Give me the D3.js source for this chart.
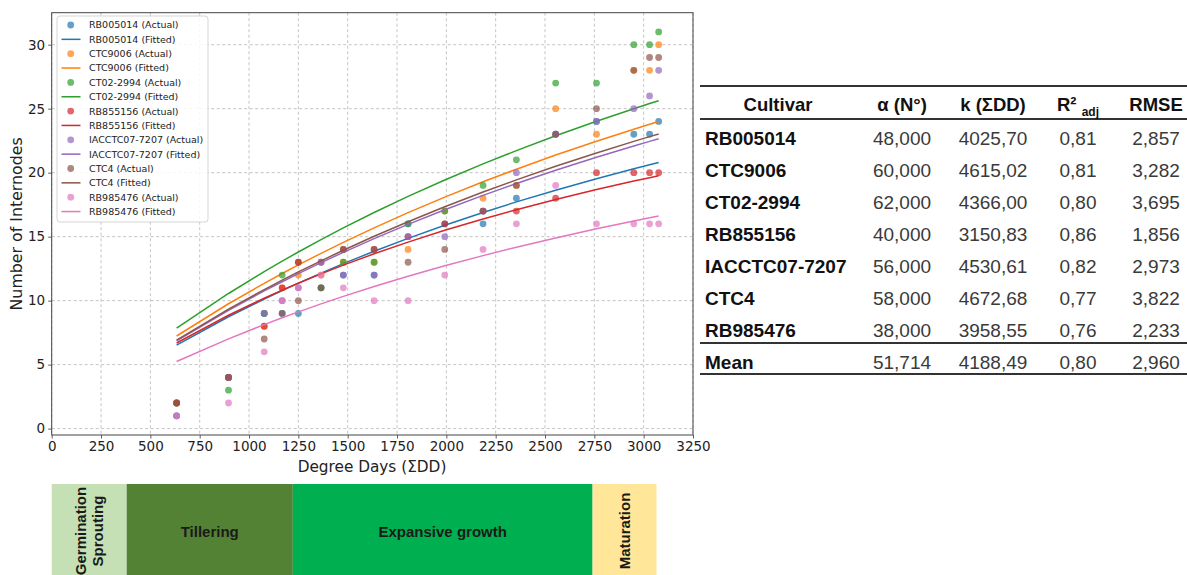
<!DOCTYPE html>
<html>
<head>
<meta charset="utf-8">
<script src="https://cdn.jsdelivr.net/npm/d3@7"></script>
<style>
  html, body { margin: 0; padding: 0; background: #fff; }
  svg { display: block; }
</style>
</head>
<body>
<svg id="chart" width="1187" height="575"></svg>
<script>
// Degree days at each sampling date
const degreeDays = [633, 896, 1077, 1168, 1250, 1365, 1478, 1634, 1806, 1992, 2186, 2355, 2554, 2761, 2950, 3030, 3076];

// Cultivars and their observed internode counts
const cultivars = ["RB005014", "CTC9006", "CT02-2994", "RB855156", "IACCTC07-7207", "CTC4", "RB985476"];
const obsRB005014    = [1, 4, 9, 9, 9, 11, 12, 12, 16, 16, 16, 18, 23, 24, 23, 23, 24];
const obsCTC9006     = [2, 4, 8, 11, 12, 12, 13, 13, 14, 17, 18, 19, 25, 23, 28, 28, 30];
const obsCT022994    = [2, 3, 9, 12, 13, 11, 13, 13, 16, 17, 19, 21, 27, 27, 30, 30, 31];
const obsRB855156    = [2, 4, 8, 11, 13, 13, 14, 14, 15, 16, 17, 17, 18, 20, 20, 20, 20];
const obsIACCTC077207 = [1, 4, 9, 10, 11, 13, 12, 12, 15, 15, 17, 20, 23, 24, 25, 26, 28];
const obsCTC4        = [2, 4, 7, 9, 10, 11, 14, 14, 13, 14, 17, 19, 23, 25, 28, 29, 29];
const obsRB985476    = [1, 2, 6, 10, 11, 12, 11, 10, 10, 12, 14, 16, 19, 16, 16, 16, 16];
const observed = [obsRB005014, obsCTC9006, obsCT022994, obsRB855156, obsIACCTC077207, obsCTC4, obsRB985476];

// Model parameters: N = alpha * DD / (k + DD)
const alphaVals = [48, 60, 62, 40, 56, 58, 38];
const kVals     = [4025.70, 4615.02, 4366.00, 3150.83, 4530.61, 4672.68, 3958.55];
const r2Vals    = [0.81, 0.81, 0.80, 0.86, 0.82, 0.77, 0.76];
const rmseVals  = [2.857, 3.282, 3.695, 1.856, 2.973, 3.822, 2.233];
const meanRow   = { alpha: 51.714, k: 4188.49, r2: 0.80, rmse: 2.960 };

// Axis ticks
const xTicks = d3.range(0, 3251, 250);
const yTicks = [0, 5, 10, 15, 20, 25, 30];

// Phenological phases along the degree-day axis
const phaseNames  = ["Germination\nSprouting", "Tillering", "Expansive growth", "Maturation"];
const phaseBounds = [0, 380, 1222, 2741, 3065];

const colors = ["#1f77b4", "#ff7f0e", "#2ca02c", "#d62728", "#9467bd", "#8c564b", "#e377c2"];
const phaseColors = ["#c5e0b4", "#548235", "#00b050", "#ffe699"];

const svg = d3.select("#chart");
const P = { left: 51.7, right: 693, top: 12.7, bottom: 435 };

const x = d3.scaleLinear().domain([0, 3250]).range([P.left, P.right]);
const y = d3.scaleLinear().domain([-0.5, 32.5]).range([P.bottom, P.top]);

const font = "'DejaVu Sans', sans-serif";

// grid
const grid = svg.append("g");
grid.selectAll("line.vx").data(xTicks).join("line")
  .attr("x1", d => x(d)).attr("x2", d => x(d))
  .attr("y1", P.top).attr("y2", P.bottom)
  .attr("stroke", "#b5b5b5").attr("stroke-width", 0.8).attr("stroke-dasharray", "3,2.5");
grid.selectAll("line.hy").data(yTicks).join("line")
  .attr("x1", P.left).attr("x2", P.right)
  .attr("y1", d => y(d)).attr("y2", d => y(d))
  .attr("stroke", "#b5b5b5").attr("stroke-width", 0.8).attr("stroke-dasharray", "3,2.5");

// axes
const xAxis = svg.append("g").attr("transform", `translate(0,${P.bottom})`)
  .call(d3.axisBottom(x).tickValues(xTicks).tickFormat(d3.format("d")).tickSize(3.5).tickPadding(3));
const yAxis = svg.append("g").attr("transform", `translate(${P.left},0)`)
  .call(d3.axisLeft(y).tickValues(yTicks).tickFormat(d3.format("d")).tickSize(3.5).tickPadding(3));
[xAxis, yAxis].forEach(a => {
  a.select(".domain").remove();
  a.selectAll("text").attr("font-family", font).attr("font-size", 13.5).attr("fill", "#222");
  a.selectAll("line").attr("stroke", "#333").attr("stroke-width", 0.8);
});

// series
const line = d3.line().x(d => x(d[0])).y(d => y(d[1]));
const plot = svg.append("g");
cultivars.forEach((c, i) => {
  plot.append("g").selectAll("circle").data(degreeDays.map((dd, j) => [dd, observed[i][j]])).join("circle")
    .attr("cx", d => x(d[0])).attr("cy", d => y(d[1])).attr("r", 3.4)
    .attr("fill", colors[i]).attr("fill-opacity", 0.7);
  const fitted = degreeDays.map(dd => [dd, alphaVals[i] * dd / (kVals[i] + dd)]);
  plot.append("path").datum(fitted).attr("d", line)
    .attr("fill", "none").attr("stroke", colors[i]).attr("stroke-width", 1.5);
});

// frame
svg.append("rect").attr("x", P.left).attr("y", P.top)
  .attr("width", P.right - P.left).attr("height", P.bottom - P.top)
  .attr("fill", "none").attr("stroke", "#444").attr("stroke-width", 1);

// axis labels
svg.append("text").attr("x", 372).attr("y", 472)
  .attr("text-anchor", "middle").attr("font-family", font).attr("font-size", 15.3).attr("fill", "#222")
  .text("Degree Days (ΣDD)");
svg.append("text").attr("transform", `translate(22,${(P.top + P.bottom) / 2}) rotate(-90)`)
  .attr("text-anchor", "middle").attr("font-family", font).attr("font-size", 15.8).attr("fill", "#222")
  .text("Number of Internodes");

// legend
const lg = svg.append("g");
lg.append("rect").attr("x", 57).attr("y", 16).attr("width", 151).attr("height", 206).attr("rx", 3)
  .attr("fill", "#fff").attr("fill-opacity", 0.85).attr("stroke", "#d5d5d5");
cultivars.forEach((c, i) => {
  const y1 = 25 + i * 2 * 14.35, y2 = y1 + 14.35;
  lg.append("circle").attr("cx", 70.7).attr("cy", y1).attr("r", 3.4)
    .attr("fill", colors[i]).attr("fill-opacity", 0.7);
  lg.append("text").attr("x", 89).attr("y", y1 + 3.4).attr("font-family", font).attr("font-size", 9.5)
    .attr("fill", "#222").text(`${c} (Actual)`);
  lg.append("line").attr("x1", 61.5).attr("x2", 80.5).attr("y1", y2).attr("y2", y2)
    .attr("stroke", colors[i]).attr("stroke-width", 1.5);
  lg.append("text").attr("x", 89).attr("y", y2 + 3.4).attr("font-family", font).attr("font-size", 9.5)
    .attr("fill", "#222").text(`${c} (Fitted)`);
});

// phase bar
const arial = "'Liberation Sans', Arial, sans-serif";
const pb = svg.append("g");
phaseNames.forEach((name, i) => {
  const x0 = x(phaseBounds[i]), x1 = x(phaseBounds[i + 1]);
  pb.append("rect").attr("x", x0).attr("y", 484).attr("width", x1 - x0).attr("height", 91)
    .attr("fill", phaseColors[i]);
  const cx = (x0 + x1) / 2, cy = 531;
  const lines = name.split("\n");
  if (x1 - x0 < 100) {
    lines.forEach((t, k) => {
      const off = (k - (lines.length - 1) / 2) * 16.5;
      pb.append("text").attr("transform", `translate(${cx + off + 5.5},${cy}) rotate(-90)`)
        .attr("text-anchor", "middle").attr("font-family", arial).attr("font-weight", "bold")
        .attr("font-size", 15).attr("fill", "#1a1a1a").text(t);
    });
  } else {
    pb.append("text").attr("x", cx).attr("y", cy + 6).attr("text-anchor", "middle")
      .attr("font-family", arial).attr("font-weight", "bold").attr("font-size", 15)
      .attr("fill", "#1a1a1a").text(name);
  }
});

// parameter table
const fmt = (f) => (v) => d3.format(f)(v).replace(".", ",");
const tbl = svg.append("g").attr("font-family", arial);
const colX = { name: 705, alpha: 902, k: 993, r2: 1078, rmse: 1156 };
const ruleX0 = 700, ruleX1 = 1187;
[86, 119, 343, 374].forEach(ry => {
  tbl.append("line").attr("x1", ruleX0).attr("x2", ruleX1).attr("y1", ry).attr("y2", ry)
    .attr("stroke", "#333").attr("stroke-width", 1.8);
});
const hy = 111;
tbl.append("text").attr("x", 778).attr("y", hy).attr("text-anchor", "middle").attr("font-weight", "bold")
  .attr("font-size", 18.5).attr("fill", "#111").text("Cultivar");
tbl.append("text").attr("x", colX.alpha).attr("y", hy).attr("text-anchor", "middle").attr("font-weight", "bold")
  .attr("font-size", 18.5).attr("fill", "#111").text("α (N°)");
tbl.append("text").attr("x", colX.k).attr("y", hy).attr("text-anchor", "middle").attr("font-weight", "bold")
  .attr("font-size", 18.5).attr("fill", "#111").text("k (ΣDD)");
const r2h = tbl.append("text").attr("x", colX.r2).attr("y", hy).attr("text-anchor", "middle")
  .attr("font-weight", "bold").attr("font-size", 18.5).attr("fill", "#111");
r2h.append("tspan").text("R² ");
r2h.append("tspan").attr("font-size", 12).attr("dy", 5).text("adj");
tbl.append("text").attr("x", colX.rmse).attr("y", hy).attr("text-anchor", "middle").attr("font-weight", "bold")
  .attr("font-size", 18.5).attr("fill", "#111").text("RMSE");

const rows = cultivars.map((c, i) => ({ name: c, alpha: alphaVals[i], k: kVals[i], r2: r2Vals[i], rmse: rmseVals[i] }));
rows.push({ name: "Mean", ...meanRow });
rows.forEach((r, i) => {
  const ry = (i < 7 ? 138 + i * 32 : 362) + 7;
  tbl.append("text").attr("x", colX.name).attr("y", ry).attr("font-weight", "bold")
    .attr("font-size", 19).attr("fill", "#111").text(r.name);
  [["alpha", fmt(".3f")], ["k", fmt(".2f")], ["r2", fmt(".2f")], ["rmse", fmt(".3f")]].forEach(([key, f]) => {
    tbl.append("text").attr("x", colX[key]).attr("y", ry).attr("text-anchor", "middle")
      .attr("font-size", 19).attr("fill", "#3a3a3a").text(f(r[key]));
  });
});
</script>
</body>
</html>
